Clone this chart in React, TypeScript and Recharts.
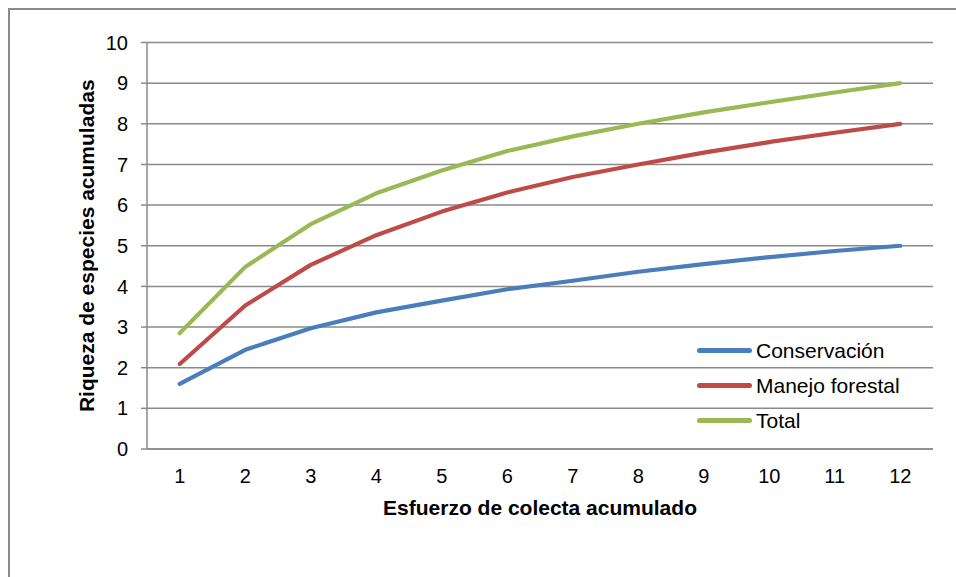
import { LineChart, Line, XAxis, YAxis, CartesianGrid, Legend } from "recharts";

// esfuerzo de colecta (unidades acumuladas)
const esfuerzo = ["1", "2", "3", "4", "5", "6", "7", "8", "9", "10", "11", "12"];

// riqueza acumulada por tipo de sitio
const conservacion = [1.6, 2.44, 2.97, 3.36, 3.65, 3.93, 4.14, 4.36, 4.55, 4.72, 4.87, 5.0];
const manejoForestal = [2.09, 3.53, 4.53, 5.26, 5.84, 6.31, 6.69, 7.0, 7.29, 7.55, 7.78, 8.0];
const total = [2.85, 4.48, 5.53, 6.29, 6.85, 7.33, 7.69, 8.0, 8.28, 8.53, 8.77, 9.0];

const yTicks = [0, 1, 2, 3, 4, 5, 6, 7, 8, 9, 10];

const series = [
  { key: "conservacion", name: "Conservación", color: "#4A7EBB" },
  { key: "manejo", name: "Manejo forestal", color: "#BE4B48" },
  { key: "total", name: "Total", color: "#98B954" },
];

const data = esfuerzo.map((e, i) => ({
  esfuerzo: e,
  conservacion: conservacion[i],
  manejo: manejoForestal[i],
  total: total[i],
}));

const FONT = "Arial, 'Liberation Sans', sans-serif";
const GRAY = "#8A8A8A";

function LegendBox({ payload }: any) {
  return (
    <div style={{ fontFamily: FONT }}>
      {(payload ?? []).map((p: any) => (
        <div
          key={p.value}
          style={{ display: "flex", alignItems: "center", height: 35 }}
        >
          <span
            style={{
              display: "inline-block",
              width: 55,
              height: 4.5,
              borderRadius: 3,
              background: p.color,
              marginRight: 4,
            }}
          />
          <span style={{ fontSize: 21, color: "#000", whiteSpace: "nowrap" }}>
            {p.value}
          </span>
        </div>
      ))}
    </div>
  );
}

export default function App() {
  // the frame runs off the right and bottom edges of the page
  return (
    <div
      style={{
        position: "fixed",
        left: 8,
        top: 8,
        right: -20,
        bottom: -20,
        borderLeft: `2px solid ${GRAY}`,
        borderTop: `2px solid ${GRAY}`,
        overflow: "hidden",
        background: "#fff",
        fontFamily: FONT,
      }}
    >
      <LineChart
        width={940}
        height={560}
        data={data}
        margin={{ top: 32.5, right: 17, bottom: 51, left: 67 }}
        style={{ position: "absolute", left: 0, top: 0 }}
      >
        <CartesianGrid
          horizontal
          vertical={false}
          stroke={GRAY}
          strokeWidth={1.5}
        />
        <XAxis
          dataKey="esfuerzo"
          scale="band"
          height={70}
          tickLine={false}
          tickMargin={14}
          axisLine={{ stroke: GRAY, strokeWidth: 1.5 }}
          tick={{ fill: "#000", fontSize: 20, fontFamily: FONT }}
          label={{
            value: "Esfuerzo de colecta acumulado",
            position: "insideBottom",
            offset: 4,
            style: {
              fill: "#000",
              fontSize: 21,
              fontWeight: "bold",
              fontFamily: FONT,
            },
          }}
        />
        <YAxis
          width={70}
          domain={[0, 10]}
          ticks={yTicks}
          interval={0}
          tickSize={6}
          tickMargin={13}
          tickLine={{ stroke: GRAY, strokeWidth: 1.5 }}
          axisLine={{ stroke: GRAY, strokeWidth: 1.5 }}
          tick={{ fill: "#000", fontSize: 20, fontFamily: FONT }}
          label={{
            value: "Riqueza de especies acumuladas",
            angle: -90,
            position: "insideLeft",
            offset: 10,
            style: {
              textAnchor: "middle",
              fill: "#000",
              fontSize: 21,
              fontWeight: "bold",
              fontFamily: FONT,
            },
          }}
        />
        <Legend
          layout="horizontal"
          verticalAlign="middle"
          align="center"
          width={240}
          wrapperStyle={{ left: 687, top: 323, width: 240 }}
          content={<LegendBox />}
        />
        {series.map((s) => (
          <Line
            key={s.key}
            type="linear"
            dataKey={s.key}
            name={s.name}
            stroke={s.color}
            strokeWidth={4.2}
            strokeLinecap="round"
            strokeLinejoin="round"
            dot={false}
            activeDot={false}
            isAnimationActive={false}
          />
        ))}
      </LineChart>
    </div>
  );
}
